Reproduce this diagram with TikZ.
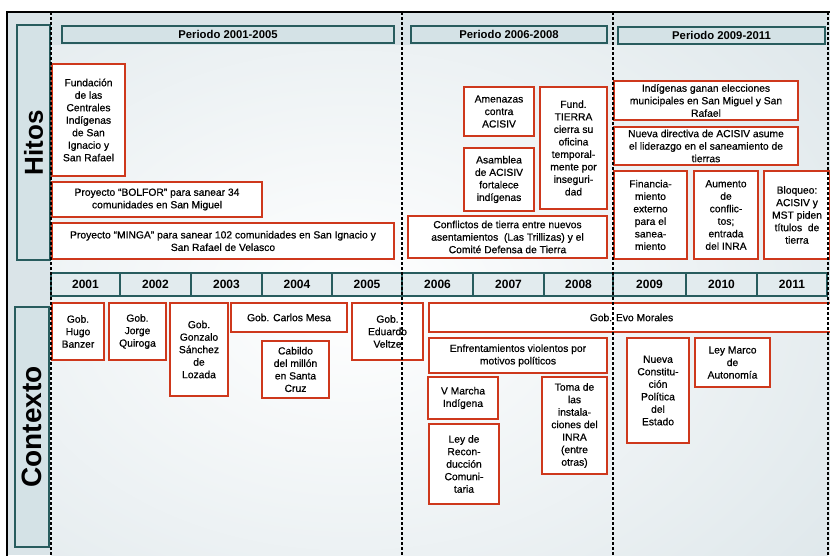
\documentclass[tikz,border=0pt]{standalone}
\usepackage{fontspec}
\setmainfont{Liberation Sans}
\newfontfamily\boxfont[FakeBold=0.6]{Liberation Sans}
\definecolor{tealb}{RGB}{40,92,94}
\definecolor{redb}{RGB}{206,56,28}
\definecolor{pale}{RGB}{212,226,230}
\definecolor{bgc}{RGB}{218,228,232}
\definecolor{cellc}{RGB}{226,235,238}
\tikzset{
  rbox/.style={draw=redb, line width=1.9pt, fill=white, inner sep=1pt, align=center,
    font=\boxfont\fontsize{10.3}{12.5}\selectfont},
  hdr/.style={draw=tealb, line width=2pt, fill=pale, inner sep=0pt,
    font=\fontsize{11.3}{13}\selectfont\bfseries},
  ycell/.style={draw=tealb, line width=1.3pt, fill=cellc, inner sep=0pt,
    font=\fontsize{12}{14}\selectfont\bfseries},
  lbl/.style={draw=tealb, line width=2pt, fill=pale, inner sep=0pt},
  vdash/.style={black, line width=1.3pt, dash pattern=on 3pt off 2pt},
}
\newcommand\rb[6]{\node[rbox, minimum width={(#4-#2)*1pt}, minimum height={(#5-#3)*1pt}] (#1) at ({(#2+#4)/2},{(#3+#5)/2}) {#6};}
\newcommand\hb[6]{\node[#6, minimum width={(#4-#2)*1pt}, minimum height={(#5-#3)*1pt}] (#1) at ({(#2+#4)/2},{(#3+#5)/2}) {};}
\begin{document}
\begin{tikzpicture}[x=1pt,y=-1pt]
\useasboundingbox (0,0) rectangle (830,555);
\begin{scope}
\clip (0,0) rectangle (830,555);
% background
\fill[white] (0,0) rectangle (830,555);
\fill[bgc] (7,12) rectangle (830,555);
\begin{scope}
\clip (51,45) rectangle (828,555);
\shade[inner color=white, outer color=bgc] (-350,-200) rectangle (1050,800);
\end{scope}
% frame
\draw[black, line width=2pt] (7,556) -- (7,12) -- (831,12);
% side labels
\hb{hitosbox}{17}{25}{50}{260}{lbl}
\node[rotate=90, font=\fontsize{26}{28}\selectfont\bfseries] (hitos) at (hitosbox.center) {Hitos};
\hb{ctxbox}{15}{307}{49}{547}{lbl}
\node[rotate=90, font=\fontsize{28}{30}\selectfont\bfseries] (ctx) at (ctxbox.center) {Contexto};
% period headers
\node[hdr, minimum width=332pt, minimum height=17pt] (p1) at (228,34.5) {Periodo 2001-2005};
\node[hdr, minimum width=196pt, minimum height=17pt] (p2) at (509,34.5) {Periodo 2006-2008};
\node[hdr, minimum width=207pt, minimum height=17pt] (p3) at (721.5,35.5) {Periodo 2009-2011};
% year bar
\foreach \n/\a/\b in {2001/51/120,2002/120/191,2003/191/262,2004/262/332,2005/332/402,2006/402/473,2007/473/544,2008/544/613,2009/613/686,2010/686/757,2011/757/827}{
  \node[ycell, minimum width={(\b-\a)*1pt}, minimum height=23pt] (y\n) at ({(\a+\b)/2},284.5) {\n};
}
% Hitos 2001-2005
\rb{fund}{52}{64}{125}{176}{Fundación\\de las\\Centrales\\Indígenas\\de San\\Ignacio y\\San Rafael}
\rb{bolfor}{52}{182}{262}{217}{Proyecto “BOLFOR” para sanear 34\\comunidades en San Miguel}
\rb{minga}{52}{223}{394}{259}{Proyecto “MINGA” para sanear 102 comunidades en San Ignacio y\\San Rafael de Velasco}
% Hitos 2006-2008
\rb{amen}{464}{87}{534}{136}{Amenazas\\contra\\ACISIV}
\rb{asam}{464}{148}{534}{211}{Asamblea\\de ACISIV\\fortalece\\indígenas}
\rb{tierra}{540}{87}{607}{209}{Fund.\\TIERRA\\cierra su\\oficina\\temporal-\\mente por\\inseguri-\\dad}
\rb{confl}{408}{216}{607}{258}{Conflictos de tierra entre nuevos\\asentamientos~ (Las Trillizas) y el\\Comité Defensa de Tierra}
% Hitos 2009-2011
\rb{elec}{614}{81}{798}{120}{Indígenas ganan elecciones\\municipales en San Miguel y San\\Rafael}
\rb{direc}{614}{127}{798}{165}{Nueva directiva de ACISIV asume\\el liderazgo en el saneamiento de\\tierras}
\rb{finan}{614}{171}{687}{259}{Financia-\\miento\\externo\\para el\\sanea-\\miento}
\rb{aumen}{694}{171}{758}{259}{Aumento\\de\\conflic-\\tos;\\entrada\\del INRA}
\rb{bloq}{764}{171}{830}{259}{Bloqueo:\\ACISIV y\\MST piden\\títulos~ de\\tierra}
% Contexto
\rb{banzer}{52}{303}{104}{360}{Gob.\\Hugo\\Banzer}
\rb{quiroga}{109}{303}{166}{360}{Gob.\\Jorge\\Quiroga}
\rb{sanchez}{170}{303}{228}{396}{Gob.\\Gonzalo\\Sánchez\\de\\Lozada}
\rb{mesa}{231}{303}{347}{332}{Gob. Carlos Mesa}
\rb{cabildo}{262}{341}{329}{398}{Cabildo\\del millón\\en Santa\\Cruz}
\rb{veltze}{352}{303}{423}{360}{Gob.\\Eduardo\\Veltze}
\rb{evo}{429}{303}{834}{332}{Gob. Evo Morales}
\rb{enfr}{429}{338}{607}{373}{Enfrentamientos violentos por\\motivos políticos}
\rb{marcha}{428}{377}{498}{419}{V Marcha\\Indígena}
\rb{recon}{429}{424}{499}{504}{Ley de\\Recon-\\ducción\\Comuni-\\taria}
\rb{toma}{542}{377}{607}{474}{Toma de\\las\\instala-\\ciones del\\INRA\\(entre\\otras)}
\rb{const}{627}{338}{689}{443}{Nueva\\Constitu-\\ción\\Política\\del\\Estado}
\rb{marco}{695}{338}{770}{387}{Ley Marco\\de\\Autonomía}
% dashed dividers
\foreach \x in {51,402,613,828}{
  \draw[vdash] (\x,12) -- (\x,555);
}
\end{scope}
\end{tikzpicture}
\end{document}
